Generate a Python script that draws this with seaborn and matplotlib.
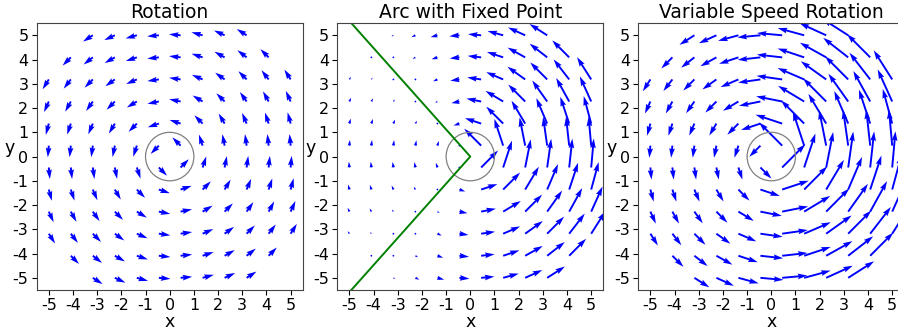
import numpy as np
import matplotlib
matplotlib.use("Agg")
import matplotlib.pyplot as plt
from matplotlib.patches import Circle
import seaborn as sns

# ---- data ----
grid_vals = [-5.0, -4.09, -3.18, -2.27, -1.36, -0.45, 0.45, 1.36, 2.27, 3.18, 4.09, 5.0]
max_radius = 6.0               # grid points farther than this have no arrow
rotation_len = 0.48            # constant arrow length in "Rotation"
arc_speed = [0.48, 0.72]       # base, cos(theta) coefficient in "Arc with Fixed Point"
var_speed = [1.0, 0.5]         # base, cos(theta) coefficient in "Variable Speed Rotation"
boundary_deg = 131.8           # green boundary rays (zero speed) in panel 2
circle_radius = 1.0
titles = ["Rotation", "Arc with Fixed Point", "Variable Speed Rotation"]
tick_vals = [-5, -4, -3, -2, -1, 0, 1, 2, 3, 4, 5]
tick_labels = ["-5", "-4", "-3", "-2", "-1", "0", "1", "2", "3", "4", "5"]

sns.set_theme(style="ticks")
plt.rcParams["font.family"] = ["DejaVu Sans"]
plt.rcParams["text.color"] = "black"
plt.rcParams["axes.labelcolor"] = "black"
plt.rcParams["xtick.color"] = "black"
plt.rcParams["ytick.color"] = "black"

fig = plt.figure(figsize=(8.98, 3.31), dpi=100)
lefts = [0.0409, 0.3756, 0.7108]
axes = [fig.add_axes([l, 0.124, 0.2962, 0.806]) for l in lefts]

X, Y = np.meshgrid(np.array(grid_vals), np.array(grid_vals))
R = np.hypot(X, Y)
keep = R <= max_radius
Xk, Yk, Rk = X[keep], Y[keep], R[keep]
TH = np.arctan2(Yk, Xk)
tx, ty = -Yk / Rk, Xk / Rk

speeds = [
    np.full_like(Rk, rotation_len),
    arc_speed[0] + arc_speed[1] * np.cos(TH),
    var_speed[0] + var_speed[1] * np.cos(TH),
]

for i, ax in enumerate(axes):
    s = speeds[i]
    ax.quiver(Xk, Yk, tx * s, ty * s, angles="xy", scale_units="xy", scale=1,
              pivot="tail", color="blue", width=0.0072)
    ax.add_patch(Circle((0, 0), circle_radius, fill=False, edgecolor="gray", lw=0.9))
    if i == 1:
        b = np.deg2rad(boundary_deg)
        line_x = [10 * np.cos(b), 0.0, 10 * np.cos(-b)]
        line_y = [10 * np.sin(b), 0.0, 10 * np.sin(-b)]
        sns.lineplot(x=line_x, y=line_y, sort=False, estimator=None, color="green",
                     lw=1.4, ax=ax)
    ax.set_xlim(-5.5, 5.5)
    ax.set_ylim(-5.5, 5.5)
    ax.set_xticks(tick_vals, tick_labels)
    ax.set_yticks(tick_vals, tick_labels)
    ax.tick_params(labelsize=11.5, length=3.5, width=0.8, pad=2.5)
    ax.set_title(titles[i], fontsize=13.5, pad=4)
    ax.set_xlabel("x", fontsize=12.5, labelpad=0)
    ax.set_ylabel("y", fontsize=12.5, rotation=0, labelpad=2)
    for sp in ax.spines.values():
        sp.set_color("#444444")
        sp.set_linewidth(0.8)

fig.savefig("out.png", dpi=100)
